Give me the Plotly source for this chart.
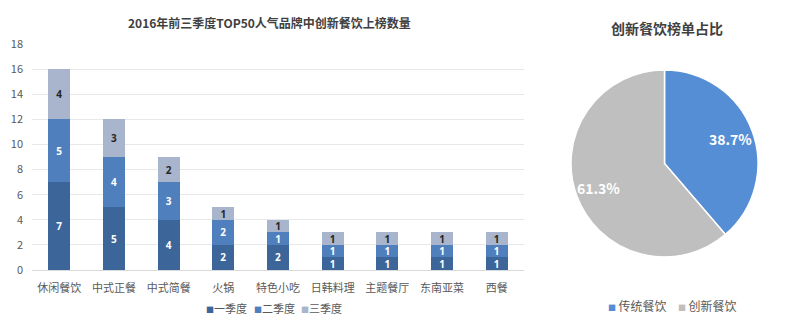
import math
import plotly.graph_objects as go

categories = ["休闲餐饮", "中式正餐", "中式简餐", "火锅", "特色小吃", "日韩料理", "主题餐厅", "东南亚菜", "西餐"]
q1 = [7, 5, 4, 2, 2, 1, 1, 1, 1]
q2 = [5, 4, 3, 2, 1, 1, 1, 1, 1]
q3 = [4, 3, 2, 1, 1, 1, 1, 1, 1]
series_names = ["一季度", "二季度", "三季度"]
bar_colors = ["#3c659a", "#4f7fbd", "#a8b5cc"]
text_colors = ["#ffffff", "#ffffff", "#262626"]

pie_labels = ["传统餐饮", "创新餐饮"]
pie_values = [38.7, 61.3]
pie_colors = ["#558ed5", "#bfbfbf"]

FONT = "Noto Sans CJK SC"
W, H = 800, 328

fig = go.Figure()
for name, vals, col, tc in zip(series_names, [q1, q2, q3], bar_colors, text_colors):
    fig.add_trace(go.Bar(
        x=categories, y=vals, name=name, marker=dict(color=col, line=dict(width=0)),
        text=vals, textposition="inside", insidetextanchor="middle",
        textfont=dict(family="Open Sans", size=10, color=tc, weight="bold"), textangle=0,
        width=0.4, showlegend=False,
    ))

# pie
pcx, pcy, pr = 664.5, 163.5, 93.5
fig.add_trace(go.Pie(
    labels=pie_labels, values=pie_values, sort=False, direction="clockwise", rotation=0,
    marker=dict(colors=pie_colors, line=dict(color="#ffffff", width=1.5)),
    textinfo="none", showlegend=False,
    domain=dict(x=[(pcx - pr) / W, (pcx + pr) / W], y=[(H - pcy - pr) / H, (H - pcy + pr) / H]),
    hoverinfo="label+percent",
))

annotations = [
    dict(text="<b>2016年前三季度TOP50人气品牌中创新餐饮上榜数量</b>", x=269 / W, y=(H - 23) / H,
         xref="paper", yref="paper", showarrow=False, xanchor="center", yanchor="middle",
         font=dict(size=12, color="#404040", family=FONT)),
    dict(text="<b>创新餐饮榜单占比</b>", x=667 / W, y=(H - 28) / H,
         xref="paper", yref="paper", showarrow=False, xanchor="center", yanchor="middle",
         font=dict(size=14, color="#404040", family=FONT)),
]

# pie percentage labels placed at 0.75 radius of slice mid-angle
total = sum(pie_values)
cum = 0.0
for v in pie_values:
    mid = (cum + v / 2) / total * 2 * math.pi
    cum += v
    lx = pcx + 0.75 * pr * math.sin(mid)
    ly = pcy - 0.75 * pr * math.cos(mid)
    annotations.append(dict(text=f"<b>{v:.1f}%</b>", x=lx / W, y=(H - ly) / H, xref="paper", yref="paper",
                            showarrow=False, xanchor="center", yanchor="middle",
                            font=dict(size=14, color="#ffffff", family=FONT)))

# legends as text items
bar_leg_x = [204, 252, 299]
for n, c, lx in zip(series_names, bar_colors, bar_leg_x):
    annotations.append(dict(text=f'<span style="color:{c};font-size:8px">■</span>{n}', x=lx / W, y=(H - 308) / H,
                            xref="paper", yref="paper", showarrow=False, xanchor="left", yanchor="middle",
                            font=dict(size=11, color="#595959", family=FONT)))
pie_leg_x = [606, 676]
for n, c, lx in zip(pie_labels, pie_colors, pie_leg_x):
    annotations.append(dict(text=f'<span style="color:{c};font-size:8px">■</span>\u2009{n}', x=lx / W, y=(H - 305) / H,
                            xref="paper", yref="paper", showarrow=False, xanchor="left", yanchor="middle",
                            font=dict(size=12, color="#595959", family=FONT)))

fig.update_layout(
    width=W, height=H, autosize=False,
    margin=dict(l=0, r=0, t=0, b=0, autoexpand=False),
    paper_bgcolor="#ffffff", plot_bgcolor="#ffffff",
    barmode="stack",
    uniformtext=dict(minsize=10, mode="show"),
    font=dict(family=FONT, color="#595959", size=11),
    xaxis=dict(domain=[32 / W, 524 / W], showgrid=False, showline=False, ticks="", automargin=False,
               tickfont=dict(size=11, color="#595959"), ticklabelstandoff=10, anchor="y"),
    yaxis=dict(domain=[(H - 270) / H, (H - 44.2) / H], range=[0, 18], dtick=2, automargin=False,
               showgrid=True, gridcolor="#e8e8e8", gridwidth=1, zeroline=True,
               zerolinecolor="#d9d9d9", zerolinewidth=1, ticks="",
               tickfont=dict(size=11, color="#595959"), ticklabelstandoff=8),
    annotations=annotations,
)

fig.write_html("out.html")
